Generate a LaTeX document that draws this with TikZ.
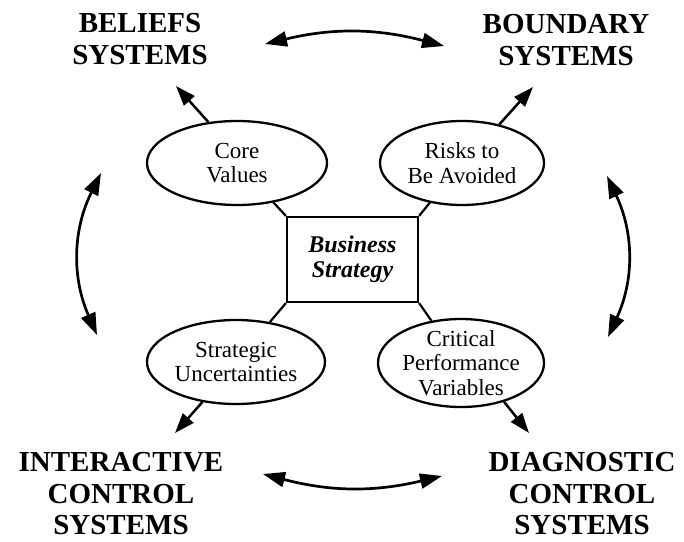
\documentclass[tikz,border=0pt]{standalone}
\usepackage{fontspec}
\setmainfont{Liberation Serif}
\usetikzlibrary{arrows.meta,shapes.geometric}
\begin{document}
\begin{tikzpicture}[x=1pt,y=1pt,
  sys/.style={font=\fontsize{29}{31.5}\selectfont\bfseries, align=center, inner sep=0pt},
  oval/.style={ellipse, draw, line width=2.3pt, inner sep=0pt},
  ovaltext/.style={font=\fontsize{23}{24.5}\selectfont, align=center, inner sep=0pt},
  link/.style={line width=2.2pt},
  outarrow/.style={line width=2.5pt, -{Triangle[length=20pt,width=14pt]}},
  twoway/.style={line width=2.7pt, {Triangle[length=22pt,width=15pt]}-{Triangle[length=22pt,width=15pt]}}]
\useasboundingbox (0,0) rectangle (684,-541);

% system labels
\node[sys] (bel) at (140,-39) {BELIEFS\\SYSTEMS};
\node[sys] (bnd) at (566,-40) {BOUNDARY\\SYSTEMS};
\node[sys] (int) at (121,-494) {INTERACTIVE\\CONTROL\\SYSTEMS};
\node[sys] (dia) at (582,-494) {DIAGNOSTIC\\CONTROL\\SYSTEMS};

% centre box
\node[draw, line width=2.2pt, minimum width=131pt, minimum height=85pt, inner sep=0pt,
      font=\fontsize{24}{25}\selectfont\bfseries\itshape, align=center] (bs) at (352.5,-259.5) {Business\\Strategy};

% ellipses
\node[oval, minimum width=180pt, minimum height=84pt] (cv) at (237,-163) {};
\node[ovaltext] (cvt) at (cv) {Core\\Values};
\node[oval, minimum width=164pt, minimum height=84pt] (rv) at (462,-163) {};
\node[ovaltext] (rvt) at (rv) {Risks to\\Be Avoided};
\node[oval, minimum width=178pt, minimum height=84pt] (su) at (236,-362) {};
\node[ovaltext] (sut) at (su) {Strategic\\Uncertainties};
\node[oval, minimum width=166pt, minimum height=88pt] (cp) at (461,-363) {};
\node[ovaltext] (cpt) at (cp) {Critical\\Performance\\Variables};

% links box-ellipses
\draw[link] (bs.north west) -- (cv);
\draw[link] (bs.north east) -- (rv);
\draw[link] (bs.south west) -- (su);
\draw[link] (bs.south east) -- (cp);

% arrows ellipse -> system
\coordinate (tbel) at (176,-86);
\coordinate (tbnd) at (533,-87);
\coordinate (tint) at (175,-433);
\coordinate (tdia) at (529,-433);
\draw[outarrow] (cv.125) -- (tbel);
\draw[outarrow] (rv.46) -- (tbnd);
\draw[outarrow] (su.230) -- (tint);
\draw[outarrow] (cp.318) -- (tdia);

% two-way curved arrows
\coordinate (t1) at (265,-44);
\coordinate (t2) at (444,-46);
\coordinate (b1) at (263,-474);
\coordinate (b2) at (442,-476);
\coordinate (l1) at (101,-173);
\coordinate (l2) at (97,-335);
\coordinate (r1) at (607,-176);
\coordinate (r2) at (608,-337);
\draw[twoway] (t1) to[bend left=14] (t2);
\draw[twoway] (b1) to[bend right=14] (b2);
\draw[twoway] (l1) to[bend right=25] (l2);
\draw[twoway] (r1) to[bend left=25] (r2);
\end{tikzpicture}
\end{document}
